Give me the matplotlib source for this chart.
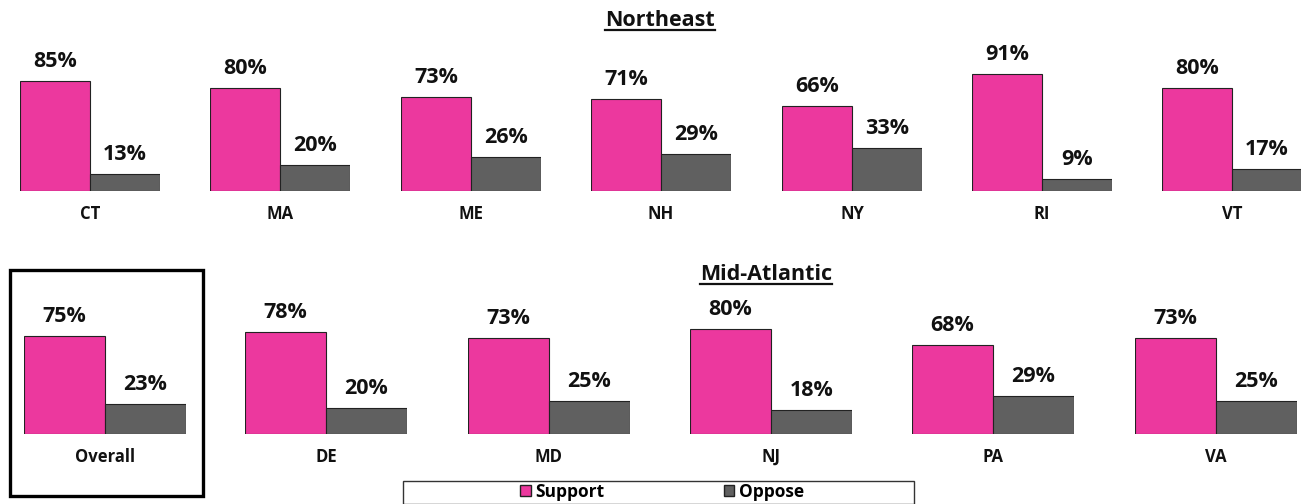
import matplotlib
matplotlib.use("Agg")
import matplotlib.pyplot as plt
from matplotlib.patches import Patch, Rectangle
from matplotlib.lines import Line2D

plt.rcParams['font.family'] = ['Open Sans', 'DejaVu Sans']

# data
ne_states = ['CT', 'MA', 'ME', 'NH', 'NY', 'RI', 'VT']
ne_support = [85, 80, 73, 71, 66, 91, 80]
ne_oppose = [13, 20, 26, 29, 33, 9, 17]

ma_states = ['Overall', 'DE', 'MD', 'NJ', 'PA', 'VA']
ma_support = [75, 78, 73, 80, 68, 73]
ma_oppose = [23, 20, 25, 18, 29, 25]

PINK = '#EC389E'
GREY = '#606060'

W, H = 1301, 504
fig = plt.figure(figsize=(W / 100, H / 100), dpi=100)


def px_axes(x, base, width, px_per_pct):
    # axes whose bottom sits on the baseline (pixel coords from top-left)
    h = 100 * px_per_pct
    ax = fig.add_axes([x / W, (H - base) / H, width / W, h / H])
    ax.set_xlim(0, 2)
    ax.set_ylim(0, 100)
    ax.axis('off')
    return ax


def panel(ax, name, sup, opp):
    b = ax.bar([0, 1], [sup, opp], width=1, align='edge',
               color=[PINK, GREY], edgecolor='#222222', linewidth=0.8)
    for rect, v in zip(b, [sup, opp]):
        ax.annotate(f'{v}%', (rect.get_x() + 0.5, v), xytext=(0, 6.5),
                    textcoords='offset points', ha='center', va='bottom',
                    fontsize=15.5, fontweight='bold', color='#111111')
    ax.annotate(name, (1, 0), xytext=(0, -16.5), textcoords='offset points',
                ha='center', va='center', fontsize=12, fontweight='bold',
                color='#111111')


top_x = [20, 210, 401, 591, 782, 972, 1162]
for x, s, sp, op in zip(top_x, ne_states, ne_support, ne_oppose):
    panel(px_axes(x, 191, 140, 1.29), s, sp, op)

bot_x = [24, 245, 468, 690, 912, 1135]
for x, s, sp, op in zip(bot_x, ma_states, ma_support, ma_oppose):
    panel(px_axes(x, 434, 162, 1.31), s, sp, op)

# section titles, underlined
titles = []
for label, cx, by in [('Northeast', 660, 26), ('Mid-Atlantic', 766, 280)]:
    t = fig.text(cx / W, (H - by) / H, label, ha='center', va='baseline',
                 fontsize=15.5, fontweight='bold', color='#111111')
    titles.append((t, by))

fig.canvas.draw()
for t, by in titles:
    bb = t.get_window_extent()
    y = (H - by - 4) / H
    fig.add_artist(Line2D([bb.x0 / W, bb.x1 / W], [y, y], color='#111111',
                          linewidth=1.6))

# box round the overall panel
fig.add_artist(Rectangle((10 / W, (H - 496) / H), 193 / W, 226 / H,
                         fill=False, edgecolor='black', linewidth=2.4))

# legend
fig.add_artist(Rectangle((403 / W, (H - 504) / H), 511 / W, 23 / H,
                         fill=False, edgecolor='#333333', linewidth=1.0))
handles = [Patch(facecolor=PINK, edgecolor='#222222'),
           Patch(facecolor=GREY, edgecolor='#222222')]
fig.legend(handles, ['Support', 'Oppose'], loc='center',
           bbox_to_anchor=(662 / W, (H - 492) / H), ncol=2, frameon=False,
           prop={'weight': 'bold', 'size': 12.5}, handlelength=0.6,
           handleheight=0.6, handletextpad=0.25, columnspacing=6.9,
           borderpad=0)

fig.savefig('out.png', dpi=100)
